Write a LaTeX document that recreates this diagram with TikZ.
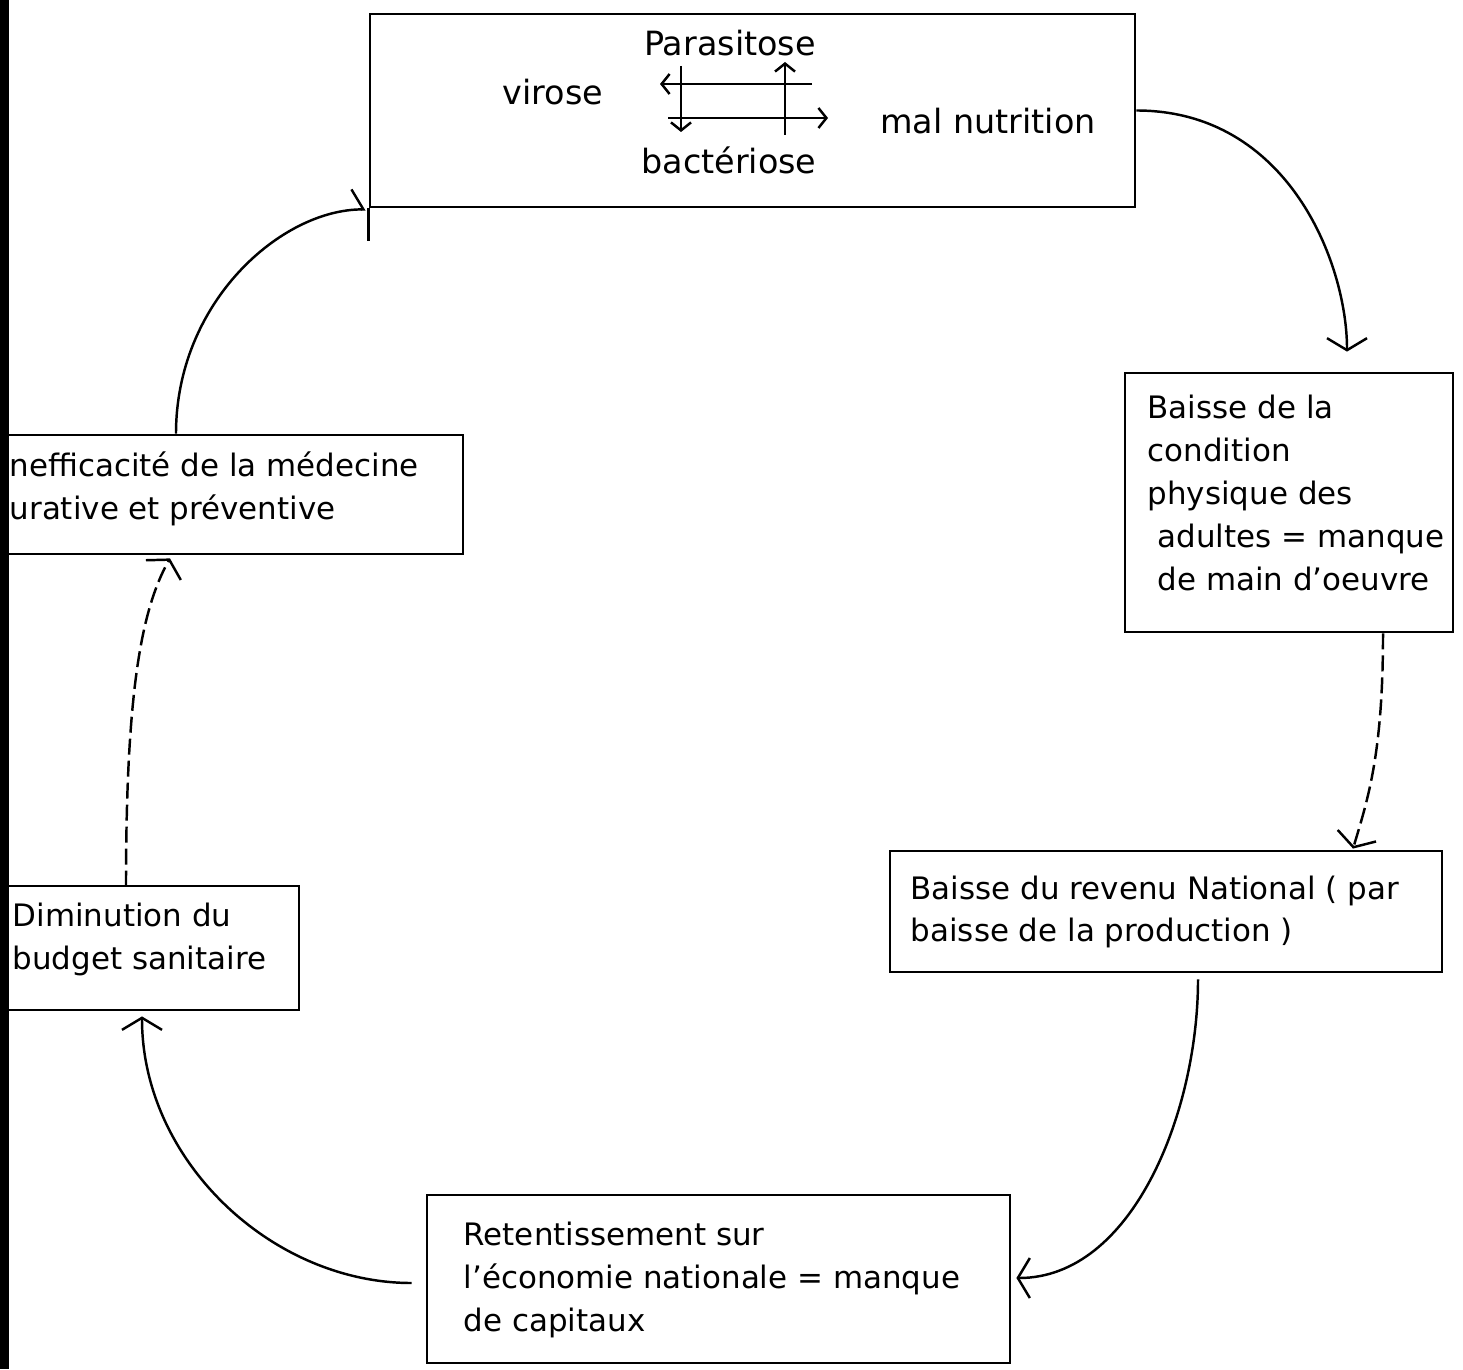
\documentclass[tikz,border=0pt]{standalone}
\usepackage{fontspec}
\setmainfont{DejaVu Sans}
\usetikzlibrary{arrows.meta}

\tikzset{
  boite/.style={draw, line width=0.8pt, inner sep=0pt},
  mot/.style={inner sep=0pt, font=\fontsize{9.5}{12.2}\selectfont},
  texte/.style={inner sep=0pt, align=left, anchor=west, font=\fontsize{8.8}{12.2}\selectfont},
  lien/.style={line width=0.7pt, -{Straight Barb[length=1.2mm,width=4mm]}},
  pointille/.style={lien, dash pattern=on 1.6mm off 0.6mm},
  petite/.style={line width=0.7pt, -{Straight Barb[length=0.8mm,width=2mm]}}
}

\begin{document}
\begin{tikzpicture}[x=0.1mm,y=0.1mm]
\useasboundingbox (0,0) rectangle (1463,1369);
\fill[white] (0,0) rectangle (1463,1369);

% les cadres
\node[boite, minimum width=76.5mm, minimum height=19.3mm] (sante) at (752.5,1258.5) {};
\node[boite, minimum width=32.8mm, minimum height=25.9mm] (physique) at (1289,866.5) {};
\node[boite, minimum width=55.2mm, minimum height=12.1mm] (revenu) at (1166,457.5) {};
\node[boite, minimum width=58.3mm, minimum height=16.8mm] (retent) at (718.5,90) {};
\node[boite, minimum width=29.1mm, minimum height=12.4mm] (budget) at (153.5,421) {};
\node[boite, minimum width=46.3mm, minimum height=11.9mm] (ineff) at (231.5,874.5) {};

% cadre du haut
\node[mot] (parasitose) at (730,1326) {Parasitose};
\node[mot] (virose) at (553,1277) {virose};
\node[mot] (malnut) at (988,1248) {mal nutrition};
\node[mot] (bacteriose) at (729,1209) {bactériose};
\coordinate (hd) at (812,1285); \coordinate (hg) at (660,1285);
\coordinate (bg) at (668,1251); \coordinate (bd) at (828,1251);
\coordinate (gh) at (681,1303); \coordinate (gb) at (681,1237);
\coordinate (db) at (785,1234); \coordinate (dh) at (785,1307);
\draw[petite] (hd) -- (hg);
\draw[petite] (bg) -- (bd);
\draw[petite] (gh) -- (gb);
\draw[petite] (db) -- (dh);
\draw[line width=0.8pt] (sante.south west) -- ++(0,-33);

% les textes
\node[texte] (physique-t) at (1147,876) {Baisse de la\\condition\\physique des\\\hspace*{1mm}adultes = manque\\\hspace*{1mm}de main d'oeuvre};
\node[texte] (revenu-t) at (910,457) {Baisse du revenu National ( par\\baisse de la production )};
\node[texte] (retent-t) at (463,89) {Retentissement sur\\l'économie nationale = manque\\de capitaux};
\node[texte] (budget-t) at (12,429.5) {Diminution du\\budget sanitaire};
\node[texte] (ineff-t) at (9,880.5) {nefficacité de la médecine\\urative et préventive};

% le cercle vicieux
\draw[lien] (sante.east) .. controls +(152,0) and +(0,88) .. ([shift={(58,20)}]physique.north);
\draw[pointille] ([shift={(94,0)}]physique.south) .. controls +(0,-120) and +(15,50) .. ([shift={(187,1)}]revenu.north);
\draw[lien] ([shift={(32,-6)}]revenu.south) .. controls +(0,-133) and +(116,0) .. ([shift={(5,1)}]retent.east);
\draw[lien] ([shift={(-14,-4)}]retent.west) .. controls +(-140,0) and +(0,-144) .. ([shift={(-11.5,-5)}]budget.south);
\draw[pointille] ([shift={(-27.5,-2)}]budget.north) .. controls +(0,188) and +(-30,-53) .. ([shift={(-61.5,-3)}]ineff.south);
\draw[line width=0.7pt, -{Straight Barb[harpoon,length=1.2mm,width=4mm]}] ([shift={(-55.5,0)}]ineff.north) .. controls +(0,132) and +(-84,0) .. ([shift={(-3,-1)}]sante.south west);

% bande noire du scan
\fill[black] (0,0) rectangle (9,1369);
\end{tikzpicture}
\end{document}
